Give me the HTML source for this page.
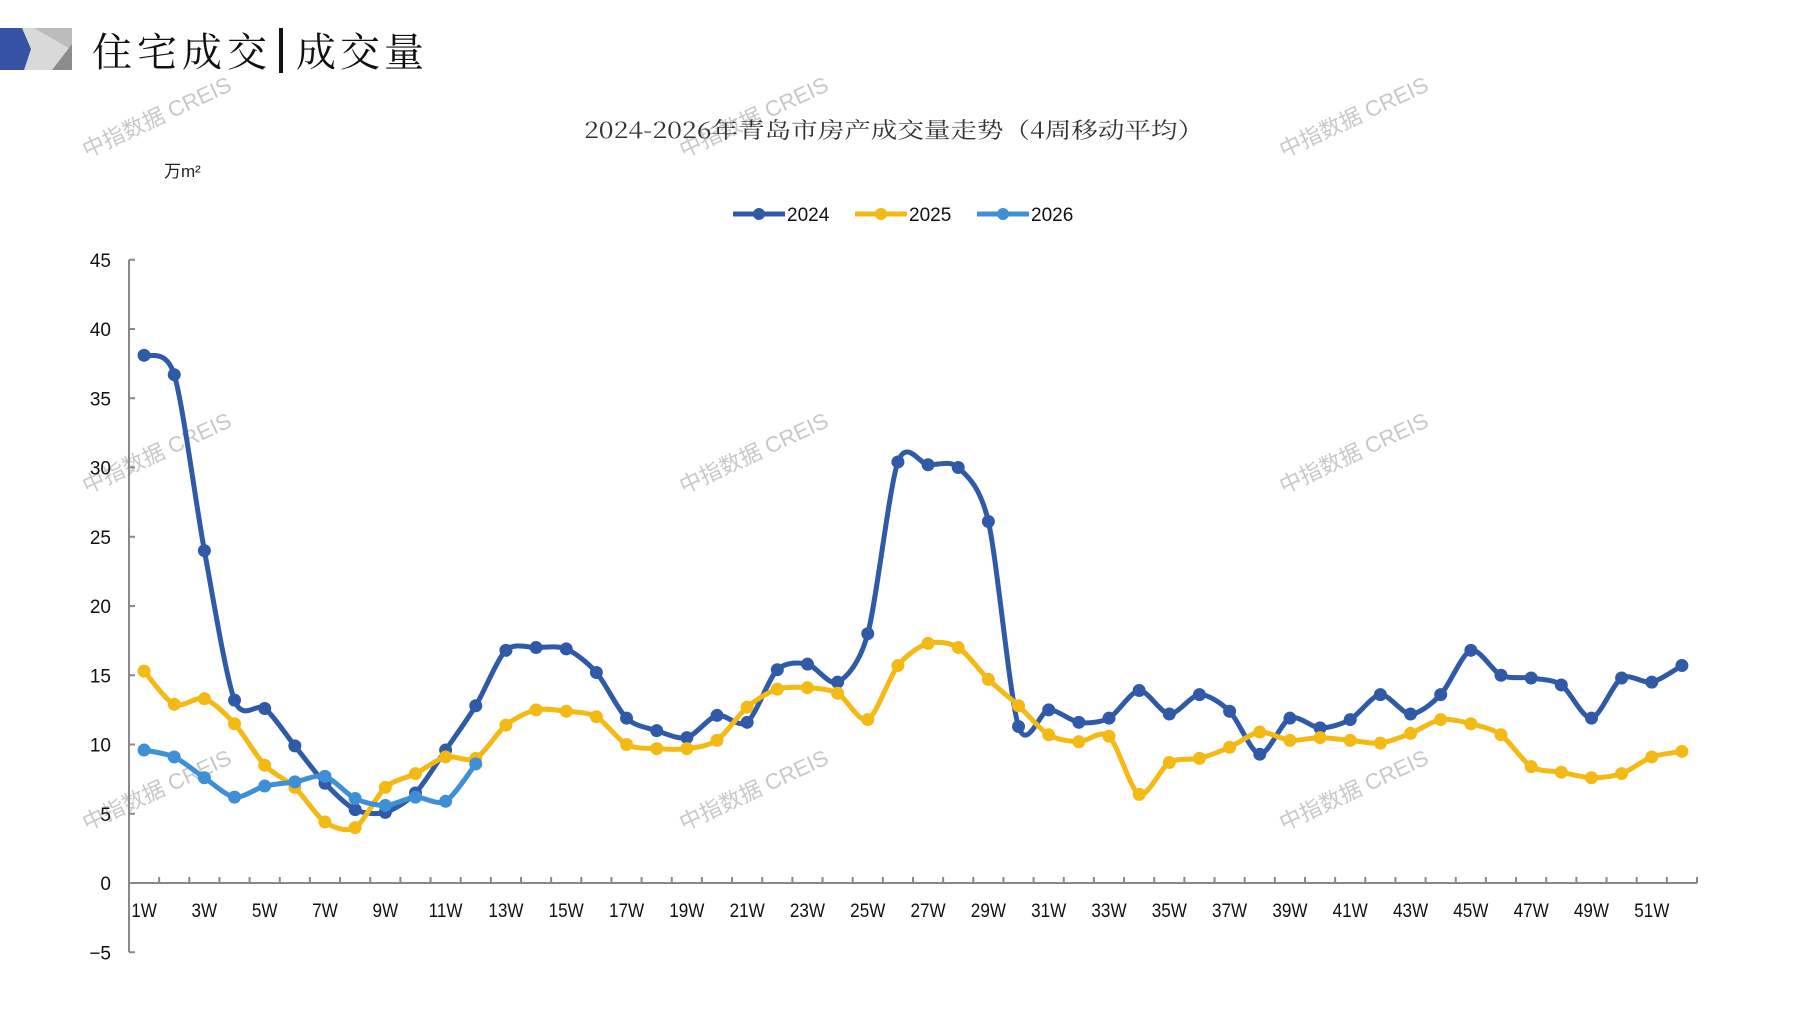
<!DOCTYPE html>
<html><head><meta charset="utf-8">
<style>
html,body{margin:0;padding:0;background:#fff;}
svg{display:block;}
</style></head>
<body>
<svg id="s" width="1797" height="1010" viewBox="0 0 1797 1010" xmlns="http://www.w3.org/2000/svg" font-family="Liberation Sans, Noto Sans CJK SC, sans-serif">
<rect width="1797" height="1010" fill="#fff"/>
<!-- logo -->
<polygon points="18,28 72,28 72,70 18,70" fill="#d9d9d9"/>
<polygon points="34,28 72,28 72,50" fill="#bcbcbc"/>
<polygon points="72,44 72,70 52,70" fill="#8c8c8c"/>
<polygon points="0,28 22,28 31,49 24,70 0,70" fill="#3552a4"/>
<text x="92" y="66" font-family="Noto Serif CJK SC, serif" font-size="40" letter-spacing="5" fill="#111">住宅成交</text>
<rect x="279" y="28" width="4" height="45" fill="#111"/>
<text x="296" y="66" font-family="Noto Serif CJK SC, serif" font-size="40" letter-spacing="4" fill="#111">成交量</text>
<g id="wm" font-size="22" fill="#c8c8c8" font-family="Liberation Sans, Noto Sans CJK SC, sans-serif"></g>
<text x="584" y="138" textLength="620" lengthAdjust="spacingAndGlyphs" font-size="22" fill="#333" font-family="Noto Serif CJK SC, serif">2024-2026年青岛市房产成交量走势（4周移动平均）</text>
<text x="164" y="177" font-size="17" fill="#222" font-family="Liberation Sans, Noto Sans CJK SC, sans-serif">万m²</text>
<!-- legend -->
<g font-size="19" fill="#111">
<line x1="733" y1="214" x2="785" y2="214" stroke="#2f5aa8" stroke-width="5"/><circle cx="759" cy="214" r="6" fill="#2f5aa8"/><text x="787" y="221">2024</text>
<line x1="855" y1="214" x2="907" y2="214" stroke="#f5b914" stroke-width="5"/><circle cx="881" cy="214" r="6" fill="#f5b914"/><text x="909" y="221">2025</text>
<line x1="977" y1="214" x2="1029" y2="214" stroke="#3d8fd6" stroke-width="5"/><circle cx="1003" cy="214" r="6" fill="#3d8fd6"/><text x="1031" y="221">2026</text>
</g>
<g id="axes"></g>
<g id="series"></g>
</svg>
<script>
var NS="http://www.w3.org/2000/svg";
function el(t,a,p,txt){var e=document.createElementNS(NS,t);for(var k in a)e.setAttribute(k,a[k]);if(txt!=null)e.textContent=txt;p.appendChild(e);return e;}
var X0=129,X1=1697,Y0=883,PU=13.85,CW=(X1-X0)/52;
function X(i){return X0+(i+0.5)*CW;}function Y(v){return Y0-v*PU;}
var ax=document.getElementById('axes');
el('line',{x1:X0,y1:Y(45),x2:X0,y2:Y(-5),stroke:'#888','stroke-width':2},ax);
el('line',{x1:X0,y1:Y0,x2:X1,y2:Y0,stroke:'#888','stroke-width':2},ax);
for(var v=-5;v<=45;v+=5){el('line',{x1:X0,y1:Y(v),x2:X0+6,y2:Y(v),stroke:'#888','stroke-width':2},ax);
el('text',{x:111,y:Y(v)+7,'text-anchor':'end','font-size':19,fill:'#111'},ax,v<0?'−5':String(v));}
for(var k=1;k<=52;k++){var x=X0+k*CW;el('line',{x1:x,y1:Y0,x2:x,y2:Y0-6,stroke:'#888','stroke-width':2},ax);}
for(var i=0;i<52;i+=2){el('text',{x:X(i),y:917,'text-anchor':'middle','font-size':19,fill:'#111',transform:'translate('+X(i)+',0) scale(0.9,1) translate('+(-X(i))+',0)'},ax,(i+1)+'W');}
var d24=[38.1,36.7,24,13.2,12.6,9.9,7.2,5.3,5.1,6.5,9.6,12.8,16.8,17,16.9,15.2,11.9,11.0,10.5,12.1,11.6,15.4,15.8,14.5,18,30.4,30.2,30,26.1,11.3,12.5,11.6,11.9,13.9,12.2,13.6,12.4,9.3,11.9,11.2,11.8,13.6,12.2,13.6,16.8,15,14.8,14.3,11.9,14.8,14.5,15.7];
var d25=[15.3,12.9,13.3,11.5,8.5,6.9,4.4,4.0,6.9,7.9,9.1,9.0,11.4,12.5,12.4,12.0,10.0,9.7,9.7,10.3,12.7,14.0,14.1,13.7,11.8,15.7,17.3,17.0,14.7,12.8,10.7,10.2,10.6,6.4,8.7,9.0,9.8,10.9,10.3,10.5,10.3,10.1,10.8,11.8,11.5,10.7,8.4,8.0,7.6,7.9,9.1,9.5];
var d26=[9.6,9.1,7.6,6.2,7.0,7.3,7.7,6.1,5.6,6.2,5.9,8.6];
var sg=document.getElementById('series');
function draw(d,c){var p=d.map(function(v,i){return [X(i),Y(v)];});var t=0.42/3;
var s='M'+p[0][0]+','+p[0][1];
for(var i=0;i<p.length-1;i++){var a=p[Math.max(i-1,0)],b=p[i],c2=p[i+1],e=p[Math.min(i+2,p.length-1)];
s+=' C'+(b[0]+(c2[0]-a[0])*t)+','+(b[1]+(c2[1]-a[1])*t)+' '+(c2[0]-(e[0]-b[0])*t)+','+(c2[1]-(e[1]-b[1])*t)+' '+c2[0]+','+c2[1];}
el('path',{d:s,fill:'none',stroke:c,'stroke-width':5,'stroke-linejoin':'round'},sg);
p.forEach(function(q){el('circle',{cx:q[0],cy:q[1],r:6.5,fill:c},sg);});}
draw(d24,'#2f5aa8');draw(d25,'#f5b914');draw(d26,'#3d8fd6');
var wm=document.getElementById('wm');
[[160,124],[757,124],[1357,124],[160,460],[757,460],[1357,460],[160,797],[757,797],[1357,797]].forEach(function(q){
el('text',{x:q[0],y:q[1],'text-anchor':'middle',transform:'rotate(-25 '+q[0]+' '+q[1]+')'},wm,'中指数据 CREIS');});
</script>
</body></html>
